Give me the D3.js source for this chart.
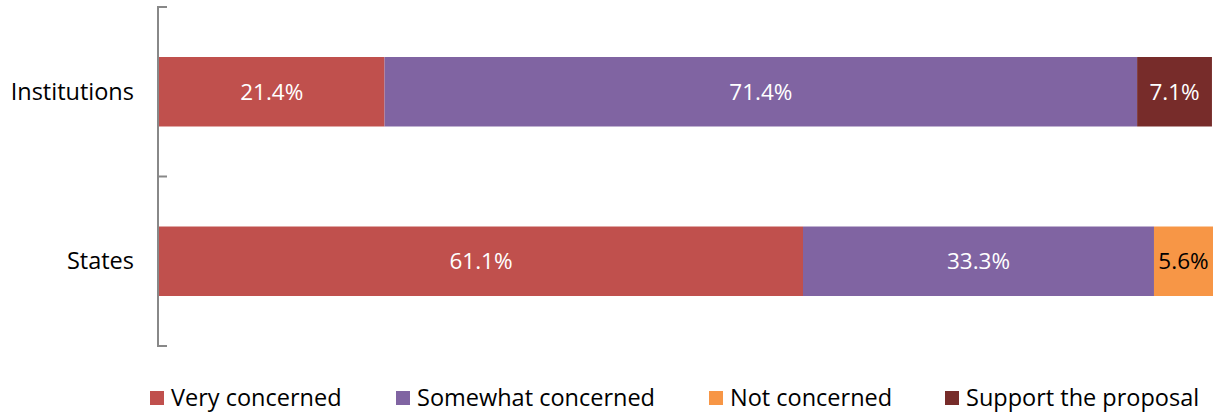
<!DOCTYPE html>
<html>
<head>
<meta charset="utf-8">
<script src="https://cdn.jsdelivr.net/npm/d3@7"></script>
<style>
  body { margin: 0; background: #fff; }
  text { font-family: "Open Sans", "Liberation Sans", sans-serif; }
</style>
</head>
<body>
<svg id="chart" width="1217" height="416"></svg>
<script>
// data
var categories = ["Institutions", "States"];
var seriesNames = ["Very concerned", "Somewhat concerned", "Not concerned", "Support the proposal"];
var seriesColors = ["#C0504D", "#8064A2", "#F79646", "#772C2A"];
var labelColors = ["#fff", "#fff", "#000", "#fff"];
var veryConcerned = [21.4, 61.1];
var somewhatConcerned = [71.4, 33.3];
var notConcerned = [0, 5.6];
var supportProposal = [7.1, 0];

var svg = d3.select("#chart"),
    margin = {top: 7, right: 4, bottom: 70, left: 159},
    width = +svg.attr("width") - margin.left - margin.right,
    height = +svg.attr("height") - margin.top - margin.bottom;

var g = svg.append("g")
    .attr("transform", "translate(" + margin.left + "," + margin.top + ")");

var rows = categories.map(function(c, i) {
    return {
        cat: c,
        "Very concerned": veryConcerned[i],
        "Somewhat concerned": somewhatConcerned[i],
        "Not concerned": notConcerned[i],
        "Support the proposal": supportProposal[i]
    };
});

var stacked = d3.stack().keys(seriesNames)(rows);

var x = d3.scaleLinear().domain([0, 100]).range([0, width]);
var y = d3.scaleBand().domain(categories).range([0, height]).paddingInner(0.59).paddingOuter(0.295);
var yTicks = d3.scaleLinear().domain([0, 2]).range([0, height]);

// bars
var layer = g.selectAll("g.layer")
    .data(stacked)
    .enter().append("g")
    .attr("class", "layer");

layer.selectAll("rect")
    .data(function(d) { return d.map(function(p) { return {p: p, key: d.key}; }); })
    .enter().append("rect")
    .filter(function(d) { return d.p[1] - d.p[0] > 0; })
    .attr("x", function(d) { return x(d.p[0]); })
    .attr("y", function(d) { return y(d.p.data.cat); })
    .attr("width", function(d) { return x(d.p[1]) - x(d.p[0]); })
    .attr("height", y.bandwidth())
    .attr("fill", function(d) { return seriesColors[seriesNames.indexOf(d.key)]; });

// value labels
stacked.forEach(function(s, si) {
    s.forEach(function(p) {
        var v = p[1] - p[0];
        if (v <= 0) return;
        g.append("text")
            .attr("x", (x(p[0]) + x(p[1])) / 2)
            .attr("y", y(p.data.cat) + y.bandwidth() / 2)
            .attr("dy", "0.35em")
            .attr("text-anchor", "middle")
            .style("font-size", "22.5px")
            .attr("fill", labelColors[si])
            .text(v.toFixed(1) + "%");
    });
});

// axis line with tick marks between categories
g.append("line")
    .attr("x1", -1).attr("x2", -1)
    .attr("y1", 0).attr("y2", height)
    .attr("stroke", "#888").attr("stroke-width", 2);

g.selectAll("line.tick")
    .data([0, 1, 2])
    .enter().append("line")
    .attr("class", "tick")
    .attr("x1", -2).attr("x2", 8)
    .attr("y1", function(d) { return yTicks(d); })
    .attr("y2", function(d) { return yTicks(d); })
    .attr("stroke", "#888").attr("stroke-width", 2);

g.selectAll("text.cat")
    .data(categories)
    .enter().append("text")
    .attr("class", "cat")
    .attr("x", -25)
    .attr("y", function(d) { return y(d) + y.bandwidth() / 2; })
    .attr("dy", "0.35em")
    .attr("text-anchor", "end")
    .style("font-size", "23.5px")
    .attr("fill", "#000")
    .text(function(d) { return d; });

// legend
var legendX = [150, 396, 709, 945];
var legend = svg.append("g");

legend.selectAll("rect")
    .data(seriesNames)
    .enter().append("rect")
    .attr("x", function(d, i) { return legendX[i]; })
    .attr("y", 391)
    .attr("width", 14)
    .attr("height", 14)
    .attr("fill", function(d, i) { return seriesColors[i]; });

legend.selectAll("text")
    .data(seriesNames)
    .enter().append("text")
    .attr("x", function(d, i) { return legendX[i] + 21; })
    .attr("y", 398)
    .attr("dy", "0.35em")
    .style("font-size", "23.5px")
    .attr("fill", "#000")
    .text(function(d) { return d; });
</script>
</body>
</html>
